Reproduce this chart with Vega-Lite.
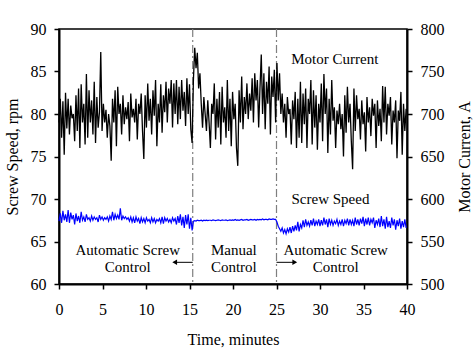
{
"$schema":"https://vega.github.io/schema/vega-lite/v6.json",
"width":348,"height":255,
"autosize":{"type":"none"},
"padding":{"left":59,"top":29,"right":69,"bottom":71},
"background":"white",
"config":{
"font":"Liberation Serif, Times New Roman, serif",
"view":{"stroke":"black","strokeWidth":1.5},
"axis":{"labelFont":"Liberation Serif, Times New Roman, serif","labelFontSize":16,"labelColor":"black","titleFont":"Liberation Serif, Times New Roman, serif","titleFontSize":16,"titleFontWeight":"normal","titleColor":"black","domainColor":"black","domainWidth":2,"tickColor":"black","tickWidth":1.5,"tickSize":5,"grid":false,"labelFlush":false,"labelOverlap":false}
},
"data":{"values":[
{"t":0,"a":690,"s":67.4},{"t":0.15,"a":718,"s":68.3},{"t":0.3,"a":672,"s":67.2},{"t":0.45,"a":715,"s":68.6},{"t":0.6,"a":652,"s":67.5},{"t":0.75,"a":725,"s":68.2},{"t":0.9,"a":683,"s":67.3},{"t":1.05,"a":718,"s":68.7},{"t":1.2,"a":676,"s":67.2},{"t":1.35,"a":710,"s":68.4},
{"t":1.5,"a":695,"s":67.6},{"t":1.65,"a":700,"s":68.1},{"t":1.8,"a":668,"s":67.0},{"t":1.95,"a":722,"s":68.3},{"t":2.1,"a":680,"s":67.4},{"t":2.25,"a":730,"s":68.0},{"t":2.4,"a":660,"s":67.2},{"t":2.55,"a":735,"s":68.5},{"t":2.7,"a":690,"s":67.5},{"t":2.85,"a":712,"s":67.9},
{"t":3,"a":664,"s":67.3},{"t":3.15,"a":747,"s":68.2},{"t":3.3,"a":672,"s":67.6},{"t":3.45,"a":728,"s":67.8},{"t":3.6,"a":690,"s":67.4},{"t":3.75,"a":716,"s":68.0},{"t":3.9,"a":676,"s":67.5},{"t":4.05,"a":738,"s":67.9},{"t":4.2,"a":666,"s":67.6},{"t":4.35,"a":720,"s":67.8},
{"t":4.5,"a":684,"s":67.3},{"t":4.65,"a":702,"s":68.1},{"t":4.8,"a":773,"s":67.6},{"t":4.95,"a":680,"s":67.9},{"t":5.1,"a":712,"s":67.5},{"t":5.25,"a":690,"s":67.8},{"t":5.4,"a":705,"s":67.6},{"t":5.55,"a":672,"s":67.9},{"t":5.7,"a":700,"s":67.4},{"t":5.85,"a":686,"s":68.0},
{"t":6,"a":645,"s":67.6},{"t":6.15,"a":718,"s":68.5},{"t":6.3,"a":690,"s":67.5},{"t":6.45,"a":728,"s":68.2},{"t":6.6,"a":662,"s":67.7},{"t":6.75,"a":732,"s":68.1},{"t":6.9,"a":700,"s":67.6},{"t":7.05,"a":712,"s":68.9},{"t":7.2,"a":676,"s":67.5},{"t":7.35,"a":722,"s":68.0},
{"t":7.5,"a":688,"s":67.7},{"t":7.65,"a":708,"s":67.9},{"t":7.8,"a":694,"s":67.6},{"t":7.95,"a":714,"s":67.8},{"t":8.1,"a":668,"s":67.4},{"t":8.25,"a":724,"s":67.9},{"t":8.4,"a":696,"s":67.3},{"t":8.55,"a":706,"s":67.8},{"t":8.7,"a":690,"s":67.2},{"t":8.85,"a":718,"s":67.9},
{"t":9,"a":670,"s":67.4},{"t":9.15,"a":712,"s":67.7},{"t":9.3,"a":700,"s":67.1},{"t":9.45,"a":724,"s":67.8},{"t":9.6,"a":680,"s":67.3},{"t":9.75,"a":647,"s":67.7},{"t":9.9,"a":722,"s":67.2},{"t":10.05,"a":684,"s":67.8},{"t":10.2,"a":736,"s":67.4},{"t":10.35,"a":692,"s":67.6},
{"t":10.5,"a":718,"s":67.2},{"t":10.65,"a":676,"s":67.8},{"t":10.8,"a":728,"s":67.3},{"t":10.95,"a":698,"s":67.7},{"t":11.1,"a":740,"s":67.2},{"t":11.25,"a":662,"s":67.6},{"t":11.4,"a":712,"s":67.4},{"t":11.55,"a":690,"s":67.7},{"t":11.7,"a":735,"s":67.2},{"t":11.85,"a":678,"s":67.9},
{"t":12,"a":722,"s":67.1},{"t":12.15,"a":702,"s":67.8},{"t":12.3,"a":738,"s":67.4},{"t":12.45,"a":690,"s":67.7},{"t":12.6,"a":730,"s":67.3},{"t":12.75,"a":712,"s":67.6},{"t":12.9,"a":740,"s":67.2},{"t":13.05,"a":684,"s":67.8},{"t":13.2,"a":736,"s":67.4},{"t":13.35,"a":700,"s":67.7},
{"t":13.5,"a":740,"s":67.0},{"t":13.65,"a":688,"s":68.0},{"t":13.8,"a":732,"s":67.2},{"t":13.95,"a":694,"s":68.2},{"t":14.1,"a":740,"s":66.9},{"t":14.25,"a":704,"s":67.9},{"t":14.4,"a":726,"s":66.6},{"t":14.55,"a":686,"s":68.1},{"t":14.7,"a":742,"s":67.0},{"t":14.85,"a":700,"s":68.2},
{"t":15,"a":735,"s":66.5},{"t":15.15,"a":682,"s":67.8},{"t":15.3,"a":666,"s":66.3},{"t":15.45,"a":740,"s":67.4},{"t":15.6,"a":778,"s":67.45},{"t":15.75,"a":754,"s":67.4},{"t":15.9,"a":772,"s":67.5},{"t":16.05,"a":730,"s":67.45},{"t":16.2,"a":748,"s":67.45},{"t":16.35,"a":712,"s":67.5},
{"t":16.5,"a":684,"s":67.4},{"t":16.65,"a":720,"s":67.5},{"t":16.8,"a":700,"s":67.45},{"t":16.95,"a":680,"s":67.5},{"t":17.1,"a":716,"s":67.45},{"t":17.25,"a":690,"s":67.5},{"t":17.4,"a":660,"s":67.5},{"t":17.55,"a":712,"s":67.45},{"t":17.7,"a":700,"s":67.55},{"t":17.85,"a":736,"s":67.5},
{"t":18,"a":670,"s":67.45},{"t":18.15,"a":718,"s":67.5},{"t":18.3,"a":684,"s":67.55},{"t":18.45,"a":726,"s":67.5},{"t":18.6,"a":664,"s":67.45},{"t":18.75,"a":732,"s":67.55},{"t":18.9,"a":690,"s":67.5},{"t":19.05,"a":708,"s":67.5},{"t":19.2,"a":672,"s":67.55},{"t":19.35,"a":740,"s":67.45},
{"t":19.5,"a":680,"s":67.5},{"t":19.65,"a":718,"s":67.55},{"t":19.8,"a":662,"s":67.5},{"t":19.95,"a":726,"s":67.55},{"t":20.1,"a":694,"s":67.5},{"t":20.25,"a":712,"s":67.6},{"t":20.4,"a":660,"s":67.5},{"t":20.55,"a":639,"s":67.55},{"t":20.7,"a":728,"s":67.5},{"t":20.85,"a":690,"s":67.55},
{"t":21,"a":744,"s":67.6},{"t":21.15,"a":682,"s":67.5},{"t":21.3,"a":720,"s":67.55},{"t":21.45,"a":700,"s":67.55},{"t":21.6,"a":736,"s":67.6},{"t":21.75,"a":694,"s":67.5},{"t":21.9,"a":724,"s":67.55},{"t":22.05,"a":704,"s":67.6},{"t":22.2,"a":742,"s":67.55},{"t":22.35,"a":690,"s":67.55},
{"t":22.5,"a":748,"s":67.6},{"t":22.65,"a":716,"s":67.5},{"t":22.8,"a":740,"s":67.6},{"t":22.95,"a":684,"s":67.55},{"t":23.1,"a":730,"s":67.6},{"t":23.25,"a":770,"s":67.55},{"t":23.4,"a":700,"s":67.65},{"t":23.55,"a":748,"s":67.55},{"t":23.7,"a":682,"s":67.6},{"t":23.85,"a":738,"s":67.6},
{"t":24,"a":712,"s":67.55},{"t":24.15,"a":756,"s":67.65},{"t":24.3,"a":676,"s":67.6},{"t":24.45,"a":744,"s":67.6},{"t":24.6,"a":720,"s":67.65},{"t":24.75,"a":752,"s":67.6},{"t":24.9,"a":690,"s":67.6},{"t":25.05,"a":760,"s":67.3},{"t":25.2,"a":716,"s":66.8},{"t":25.35,"a":748,"s":66.5},
{"t":25.5,"a":700,"s":66.2},{"t":25.65,"a":724,"s":66.6},{"t":25.8,"a":690,"s":66.0},{"t":25.95,"a":712,"s":66.4},{"t":26.1,"a":672,"s":65.9},{"t":26.25,"a":720,"s":66.5},{"t":26.4,"a":700,"s":66.1},{"t":26.55,"a":706,"s":66.7},{"t":26.7,"a":664,"s":66.0},{"t":26.85,"a":716,"s":66.8},
{"t":27,"a":694,"s":66.2},{"t":27.15,"a":726,"s":66.9},{"t":27.3,"a":660,"s":66.3},{"t":27.45,"a":718,"s":67.3},{"t":27.6,"a":672,"s":66.2},{"t":27.75,"a":738,"s":67.0},{"t":27.9,"a":666,"s":66.6},{"t":28.05,"a":724,"s":67.5},{"t":28.2,"a":688,"s":66.7},{"t":28.35,"a":730,"s":67.6},
{"t":28.5,"a":660,"s":66.9},{"t":28.65,"a":718,"s":67.3},{"t":28.8,"a":700,"s":66.8},{"t":28.95,"a":740,"s":67.5},{"t":29.1,"a":664,"s":66.9},{"t":29.25,"a":728,"s":67.7},{"t":29.4,"a":684,"s":66.8},{"t":29.55,"a":722,"s":67.4},{"t":29.7,"a":658,"s":67.0},{"t":29.85,"a":712,"s":67.6},
{"t":30,"a":690,"s":66.8},{"t":30.15,"a":736,"s":67.5},{"t":30.3,"a":668,"s":66.9},{"t":30.45,"a":747,"s":67.8},{"t":30.6,"a":700,"s":67.0},{"t":30.75,"a":730,"s":67.6},{"t":30.9,"a":654,"s":66.7},{"t":31.05,"a":718,"s":67.7},{"t":31.2,"a":676,"s":67.0},{"t":31.35,"a":740,"s":67.5},
{"t":31.5,"a":692,"s":66.9},{"t":31.65,"a":708,"s":67.4},{"t":31.8,"a":660,"s":67.1},{"t":31.95,"a":704,"s":67.6},{"t":32.1,"a":688,"s":66.9},{"t":32.25,"a":712,"s":67.4},{"t":32.4,"a":682,"s":67.0},{"t":32.55,"a":700,"s":67.6},{"t":32.7,"a":650,"s":66.8},{"t":32.85,"a":722,"s":67.5},
{"t":33,"a":678,"s":67.1},{"t":33.15,"a":732,"s":67.7},{"t":33.3,"a":690,"s":66.9},{"t":33.45,"a":712,"s":67.6},{"t":33.6,"a":668,"s":67.0},{"t":33.75,"a":635,"s":67.5},{"t":33.9,"a":730,"s":66.8},{"t":34.05,"a":680,"s":67.8},{"t":34.2,"a":722,"s":67.0},{"t":34.35,"a":694,"s":67.6},
{"t":34.5,"a":706,"s":66.9},{"t":34.65,"a":670,"s":67.7},{"t":34.8,"a":716,"s":67.1},{"t":34.95,"a":688,"s":67.9},{"t":35.1,"a":702,"s":66.8},{"t":35.25,"a":656,"s":67.7},{"t":35.4,"a":720,"s":67.0},{"t":35.55,"a":690,"s":67.8},{"t":35.7,"a":708,"s":66.9},{"t":35.85,"a":674,"s":67.6},
{"t":36,"a":718,"s":67.2},{"t":36.15,"a":698,"s":67.8},{"t":36.3,"a":712,"s":66.6},{"t":36.45,"a":660,"s":67.5},{"t":36.6,"a":716,"s":67.0},{"t":36.75,"a":686,"s":67.7},{"t":36.9,"a":706,"s":66.7},{"t":37.05,"a":668,"s":68.0},{"t":37.2,"a":733,"s":66.8},{"t":37.35,"a":690,"s":67.6},
{"t":37.5,"a":732,"s":66.5},{"t":37.65,"a":676,"s":67.9},{"t":37.8,"a":712,"s":66.7},{"t":37.95,"a":698,"s":67.4},{"t":38.1,"a":720,"s":66.6},{"t":38.25,"a":664,"s":67.8},{"t":38.4,"a":704,"s":66.9},{"t":38.55,"a":690,"s":67.6},{"t":38.7,"a":716,"s":66.4},{"t":38.85,"a":648,"s":67.5},
{"t":39,"a":704,"s":66.8},{"t":39.15,"a":692,"s":67.7},{"t":39.3,"a":726,"s":66.5},{"t":39.45,"a":652,"s":67.4},{"t":39.6,"a":712,"s":66.7},{"t":39.75,"a":680,"s":67.6},{"t":39.9,"a":706,"s":66.6}
]},
"encoding":{
"x":{"field":"t","type":"quantitative","scale":{"domain":[0,40],"nice":false,"zero":false},
"axis":{"title":"Time, minutes","values":[0,5,10,15,20,25,30,35,40],"labelPadding":12,"titlePadding":14}}
},
"layer":[
{"data":{"values":[{"t":15.37},{"t":25.0}]},
 "mark":{"type":"rule","color":"#7f7f7f","strokeWidth":1.2,"strokeDash":[8,3,2,3]},
 "encoding":{}},
{"mark":{"type":"line","color":"#0000ff","strokeWidth":1.2,"interpolate":"linear"},
 "encoding":{"y":{"field":"s","type":"quantitative","scale":{"domain":[60,90],"nice":false,"zero":false},
   "axis":{"orient":"left","title":"Screw Speed, rpm","values":[60,65,70,75,80,85,90],"labelPadding":8,"titlePadding":10}}}},
{"mark":{"type":"line","color":"black","strokeWidth":1.3,"interpolate":"linear"},
 "encoding":{"y":{"field":"a","type":"quantitative","scale":{"domain":[500,800],"nice":false,"zero":false},
   "axis":{"orient":"right","title":"Motor Current, A","values":[500,550,600,650,700,750,800],"labelPadding":8,"titlePadding":12,"titleAngle":270,"titleBaseline":"top"}}}},
{"data":{"values":[{"t":15.37,"t2":13.2,"y":62.55},{"t":25.0,"t2":27.2,"y":62.55}]},
 "mark":{"type":"rule","color":"black","strokeWidth":1},
 "encoding":{"x2":{"field":"t2"},"y":{"field":"y","type":"quantitative","scale":{"domain":[60,90],"nice":false,"zero":false},"axis":null}}},
{"data":{"values":[{"t":13.3,"y":62.55,"sh":"triangle-left"},{"t":27.1,"y":62.55,"sh":"triangle-right"}]},
 "mark":{"type":"point","filled":true,"color":"black","size":30,"opacity":1},
 "encoding":{"shape":{"field":"sh","type":"nominal","scale":null,"legend":null},"y":{"field":"y","type":"quantitative","scale":{"domain":[60,90],"nice":false,"zero":false},"axis":null}}},
{"data":{"values":[
 {"t":7.9,"y":64,"label":"Automatic Screw"},{"t":7.9,"y":62,"label":"Control"},
 {"t":20.1,"y":64,"label":"Manual"},{"t":20.1,"y":62,"label":"Control"},
 {"t":31.8,"y":64,"label":"Automatic Screw"},{"t":31.8,"y":62,"label":"Control"},
 {"t":31.7,"y":86.5,"label":"Motor Current"},{"t":31.2,"y":70,"label":"Screw Speed"}]},
 "mark":{"type":"text","font":"Liberation Serif, Times New Roman, serif","fontSize":15,"color":"black","align":"center","baseline":"middle"},
 "encoding":{"text":{"field":"label"},"y":{"field":"y","type":"quantitative","scale":{"domain":[60,90],"nice":false,"zero":false},"axis":null}}}
],
"resolve":{"scale":{"y":"independent"}}
}
